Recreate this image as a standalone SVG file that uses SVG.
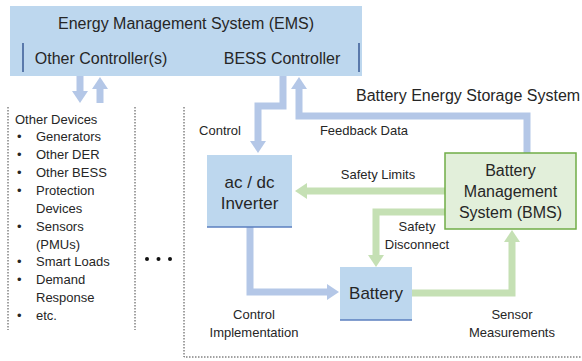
<svg xmlns="http://www.w3.org/2000/svg" width="582" height="361" viewBox="0 0 582 361">
<defs>
<style>
text{font-family:"Liberation Sans",Arial,sans-serif;fill:#262626}
.big{font-size:16px}
.box{font-size:17px;text-anchor:middle}
.sm{font-size:13px}
.mid{text-anchor:middle}
.blue{fill:#BDD7EE}
.shade{stroke:#5B7FBF;stroke-width:1.5}
.bar{stroke:#3A5A94;stroke-width:1.5}
.dot{stroke:#444;stroke-width:1;stroke-dasharray:1.5 1.5;fill:none}
.cb{fill:none;stroke:#B4C7E7;stroke-width:7;stroke-linejoin:miter}
.cg{fill:none;stroke:#C5E0B4;stroke-width:7;stroke-linejoin:miter}
</style>
<marker id="hb" markerUnits="userSpaceOnUse" viewBox="0 -8 12 16" refX="0" refY="0" markerWidth="12" markerHeight="16" orient="auto"><path d="M0,-8L12,0L0,8z" fill="#B4C7E7"/></marker>
<marker id="hg" markerUnits="userSpaceOnUse" viewBox="0 -8 12 16" refX="0" refY="0" markerWidth="12" markerHeight="16" orient="auto"><path d="M0,-8L12,0L0,8z" fill="#C5E0B4"/></marker>
</defs>
<rect width="582" height="361" fill="#fff"/>

<g id="ems">
<rect class="blue" x="10" y="6" width="352" height="70"/>
<line class="bar" x1="23" y1="43" x2="23" y2="72"/>
<line class="bar" x1="359" y1="43" x2="359" y2="72"/>
<text class="big mid" x="186" y="29">Energy Management System (EMS)</text>
<text class="big mid" x="101" y="64">Other Controller(s)</text>
<text class="big mid" x="282" y="64">BESS Controller</text>
</g>

<g id="other-devices">
<line class="dot" x1="8" y1="107" x2="8" y2="330"/>
<line class="dot" x1="135" y1="107" x2="135" y2="330"/>
<g class="sm">
<text x="15" y="124">Other Devices</text>
<text x="17" y="141">•</text><text x="36" y="141">Generators</text>
<text x="17" y="159">•</text><text x="36" y="159">Other DER</text>
<text x="17" y="177">•</text><text x="36" y="177">Other BESS</text>
<text x="17" y="195">•</text><text x="36" y="195">Protection</text>
<text x="36" y="213">Devices</text>
<text x="17" y="231">•</text><text x="36" y="231">Sensors</text>
<text x="36" y="249">(PMUs)</text>
<text x="17" y="266">•</text><text x="36" y="266">Smart Loads</text>
<text x="17" y="284">•</text><text x="36" y="284">Demand</text>
<text x="36" y="302">Response</text>
<text x="17" y="320">•</text><text x="36" y="320">etc.</text>
</g>
</g>

<g id="ellipsis" fill="#111">
<circle cx="147" cy="259" r="2"/>
<circle cx="158.5" cy="259" r="2"/>
<circle cx="170" cy="259" r="2"/>
</g>

<g id="bess">
<polyline class="dot" points="184,107 184,357 582,357"/>
<text class="big" x="356" y="101">Battery Energy Storage System</text>
</g>

<g id="connectors">
<polyline class="cb" points="80,76 80,91" marker-end="url(#hb)"/>
<polyline class="cb" points="100,103 100,89" marker-end="url(#hb)"/>
<polyline class="cb" points="283,76 283,106 258,106 258,141" marker-end="url(#hb)"/>
<polyline class="cb" points="527,153 527,116 299,116 299,89" marker-end="url(#hb)"/>
<polyline class="cb" points="250,227 250,292 327,292" marker-end="url(#hb)"/>
<polyline class="cg" points="445,191 307,191" marker-end="url(#hg)"/>
<polyline class="cg" points="445,212 376,212 376,255" marker-end="url(#hg)"/>
<polyline class="cg" points="412,293 512,293 512,242" marker-end="url(#hg)"/>
</g>

<g id="inverter">
<rect class="blue" x="207" y="155" width="85" height="72"/>
<line class="shade" x1="207" y1="227" x2="292" y2="227"/>
<text class="box" x="249.5" y="188">ac / dc</text>
<text class="box" x="249.5" y="209">Inverter</text>
</g>

<g id="bms">
<rect x="445" y="153" width="131" height="76" fill="#E2EFDA" stroke="#70AD47" stroke-width="1.5"/>
<text class="big mid" x="510.5" y="176">Battery</text>
<text class="big mid" x="510.5" y="197">Management</text>
<text class="big mid" x="510.5" y="218">System (BMS)</text>
</g>

<g id="battery">
<rect class="blue" x="340" y="267" width="72" height="53"/>
<line class="shade" x1="340" y1="320" x2="412" y2="320"/>
<text class="box" x="376" y="299">Battery</text>
</g>

<g id="labels" class="sm">
<text class="mid" x="220" y="135">Control</text>
<text class="mid" x="364" y="135">Feedback Data</text>
<text class="mid" x="378" y="179">Safety Limits</text>
<text class="mid" x="417" y="231">Safety</text>
<text class="mid" x="417" y="249">Disconnect</text>
<text class="mid" x="254" y="319">Control</text>
<text class="mid" x="254" y="337">Implementation</text>
<text class="mid" x="512" y="319">Sensor</text>
<text class="mid" x="512" y="337">Measurements</text>
</g>
</svg>
